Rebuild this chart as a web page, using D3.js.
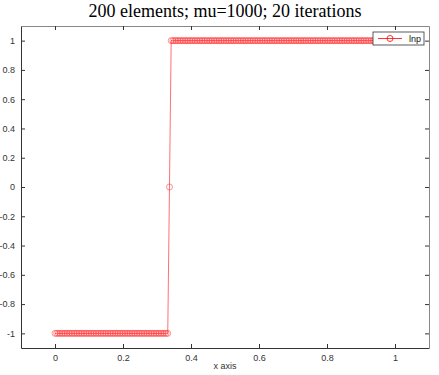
<!DOCTYPE html>
<html>
<head>
<meta charset="utf-8">
<script src="https://cdn.jsdelivr.net/npm/d3@7"></script>
<style>
  body { margin: 0; background: #fff; }
  svg { display: block; }
</style>
</head>
<body>
<div id="chart"></div>
<script>
// element values after 20 iterations (200 elements on [0,1])
const nElements = 200;
const lnp = [
  -1,-1,-1,-1,-1,-1,-1,-1,-1,-1,-1,-1,-1,-1,-1,-1,-1,-1,-1,-1,
  -1,-1,-1,-1,-1,-1,-1,-1,-1,-1,-1,-1,-1,-1,-1,-1,-1,-1,-1,-1,
  -1,-1,-1,-1,-1,-1,-1,-1,-1,-1,-1,-1,-1,-1,-1,-1,-1,-1,-1,-1,
  -1,-1,-1,-1,-1,-1,-1, 0, 1, 1, 1, 1, 1, 1, 1, 1, 1, 1, 1, 1,
   1, 1, 1, 1, 1, 1, 1, 1, 1, 1, 1, 1, 1, 1, 1, 1, 1, 1, 1, 1,
   1, 1, 1, 1, 1, 1, 1, 1, 1, 1, 1, 1, 1, 1, 1, 1, 1, 1, 1, 1,
   1, 1, 1, 1, 1, 1, 1, 1, 1, 1, 1, 1, 1, 1, 1, 1, 1, 1, 1, 1,
   1, 1, 1, 1, 1, 1, 1, 1, 1, 1, 1, 1, 1, 1, 1, 1, 1, 1, 1, 1,
   1, 1, 1, 1, 1, 1, 1, 1, 1, 1, 1, 1, 1, 1, 1, 1, 1, 1, 1, 1,
   1, 1, 1, 1, 1, 1, 1, 1, 1, 1, 1, 1, 1, 1, 1, 1, 1, 1, 1, 1
];
const xTicks = [0, 0.2, 0.4, 0.6, 0.8, 1];
const yTicks = [-1, -0.8, -0.6, -0.4, -0.2, 0, 0.2, 0.4, 0.6, 0.8, 1];
const xTickLabels = ["0", "0.2", "0.4", "0.6", "0.8", "1"];
const yTickLabels = ["-1", "-0.8", "-0.6", "-0.4", "-0.2", "0", "0.2", "0.4", "0.6", "0.8", "1"];

const width = 439, height = 375;
const margin = { top: 26, right: 10, bottom: 27, left: 21 };

const data = lnp.map((v, i) => ({ x: i / (nElements - 1), y: v }));

const svg = d3.select("#chart").append("svg")
  .attr("width", width)
  .attr("height", height);

const x = d3.scaleLinear().domain([-0.1, 1.1]).range([margin.left, width - margin.right]);
const y = d3.scaleLinear().domain([-1.1, 1.1]).range([height - margin.bottom, margin.top]);

const tickFont = "Liberation Sans, Arial, sans-serif";

// axes: ticks point inward, box on all four sides
const axisColor = "#333";
function styleAxis(g, labels) {
  g.select(".domain").attr("stroke", axisColor).attr("stroke-width", 1);
  g.selectAll(".tick line").attr("stroke", axisColor);
  g.selectAll(".tick text").attr("fill", "#333").style("font-family", tickFont).style("font-size", "9px");
  if (!labels) g.selectAll(".tick text").remove();
}

svg.append("g")
  .attr("transform", `translate(0,${height - margin.bottom})`)
  .call(d3.axisBottom(x).tickValues(xTicks).tickFormat((d, i) => xTickLabels[i]).tickSizeInner(-4).tickSizeOuter(0).tickPadding(7))
  .call(g => styleAxis(g, true));

svg.append("g")
  .attr("transform", `translate(0,${margin.top})`)
  .call(d3.axisTop(x).tickValues(xTicks).tickSizeInner(-4).tickSizeOuter(0))
  .call(g => styleAxis(g, false))
  .call(g => g.select(".domain").attr("stroke", "#888"));

svg.append("g")
  .attr("transform", `translate(${margin.left},0)`)
  .call(d3.axisLeft(y).tickValues(yTicks).tickFormat((d, i) => yTickLabels[i]).tickSizeInner(-4).tickSizeOuter(0).tickPadding(6))
  .call(g => styleAxis(g, true));

svg.append("g")
  .attr("transform", `translate(${width - margin.right},0)`)
  .call(d3.axisRight(y).tickValues(yTicks).tickSizeInner(-4).tickSizeOuter(0))
  .call(g => styleAxis(g, false))
  .call(g => g.select(".domain").attr("stroke", "#888"));

// line + circle markers
const red = "#ff0000";
svg.append("path")
  .datum(data)
  .attr("fill", "none")
  .attr("stroke", red)
  .attr("stroke-opacity", 0.7)
  .attr("stroke-width", 0.8)
  .attr("d", d3.line().x(d => x(d.x)).y(d => y(d.y)));

svg.selectAll("circle.pt")
  .data(data)
  .enter().append("circle")
  .attr("class", "pt")
  .attr("cx", d => x(d.x))
  .attr("cy", d => y(d.y))
  .attr("r", 3)
  .attr("fill", "none")
  .attr("stroke", red)
  .attr("stroke-opacity", 0.6)
  .attr("stroke-width", 0.7);

// title and x label
svg.append("text")
  .attr("x", 225).attr("y", 17)
  .attr("text-anchor", "middle")
  .style("font-family", "Liberation Serif, Times New Roman, serif")
  .style("font-size", "18px")
  .text("200 elements; mu=1000; 20 iterations");

svg.append("text")
  .attr("x", 225).attr("y", 369)
  .attr("text-anchor", "middle")
  .attr("fill", "#333")
  .style("font-family", tickFont)
  .style("font-size", "9px")
  .text("x axis");

// legend
const lg = svg.append("g").attr("transform", "translate(373,32)");
lg.append("rect").attr("width", 51).attr("height", 13).attr("fill", "#fff").attr("stroke", "#333").attr("stroke-width", 0.8);
lg.append("line").attr("x1", 5).attr("x2", 29).attr("y1", 6.5).attr("y2", 6.5).attr("stroke", red).attr("stroke-width", 0.8);
lg.append("circle").attr("cx", 17).attr("cy", 6.5).attr("r", 3).attr("fill", "none").attr("stroke", red).attr("stroke-width", 0.8);
lg.append("text").attr("x", 36).attr("y", 10).style("font-family", tickFont).style("font-size", "9px").attr("fill", "#111").text("lnp");
</script>
</body>
</html>
